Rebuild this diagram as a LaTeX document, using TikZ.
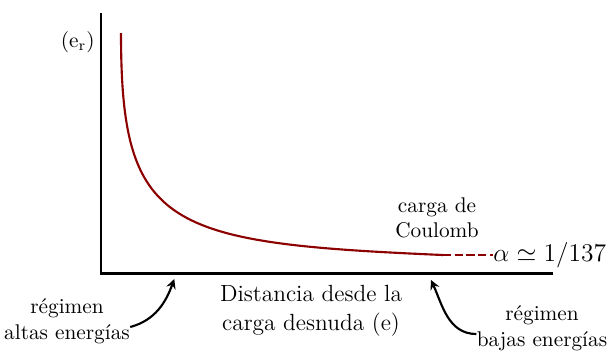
\documentclass[tikz,border=0pt]{standalone}
\usepackage{amsmath}
\usepackage{amssymb}
\usetikzlibrary{arrows}
\usetikzlibrary{positioning}

\begin{document}
\begin{tikzpicture}[x=0.47pt, y=-0.47pt, >=stealth, font=\fontsize{10}{12}\selectfont]
    \tikzstyle{axis}=[line width=1.4pt, black]
    \tikzstyle{curve}=[line width=1pt, draw=red!55!black]
    \tikzstyle{label}=[align=center, inner sep=0pt]
    \tikzstyle{pointer}=[->, line width=1pt, shorten >=1pt]

    \useasboundingbox (0,0) rectangle (613,350);

    \coordinate (ytop) at (101,13);
    \coordinate (origin) at (101,273);
    \coordinate (xend) at (553,273);
    \coordinate (head) at (121,33);
    \coordinate (tail) at (443,255);
    \coordinate (limit) at (493,255);

    \draw[axis] (ytop) -- (origin) -- (xend);

    \draw[curve] (head) .. controls (121,228) and (165,243) .. (tail);
    \draw[curve, dash pattern=on 3.8pt off 1.7pt] (tail) -- (limit);

    \node[label, anchor=east] (yname) at (95,42) {$(\mathrm{e_r})$};
    \node[label, anchor=west] (alpha) at (limit) {\large $\alpha \simeq 1/137$};
    \node[label] (coulomb) at (437,218) {carga de\\Coulomb};
    \node[label, font=\fontsize{11}{13.5}\selectfont] (xname) at (311,311) {Distancia desde la\\carga desnuda (e)};
    \node[label] (altas) at (67,321) {r\'egimen\\altas energ\'ias};
    \node[label] (bajas) at (542,328) {r\'egimen\\bajas energ\'ias};

    \coordinate (hitaltas) at (175,277);
    \coordinate (hitbajas) at (430,278);

    \draw[pointer] (altas.east |- 0,327) to[out=15, in=-110] (hitaltas);
    \draw[pointer] (bajas.west |- 0,334) to[out=180, in=-65] (hitbajas);
\end{tikzpicture}
\end{document}
